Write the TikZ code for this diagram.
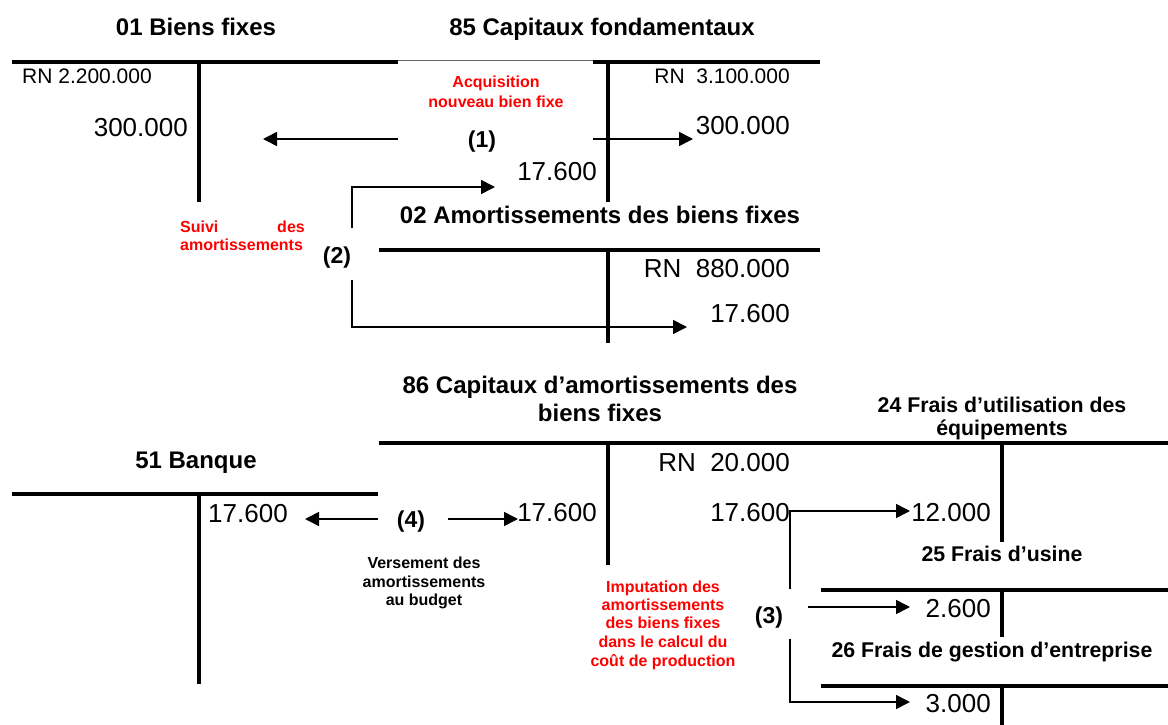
\documentclass[tikz,border=0pt]{standalone}
\usepackage{fontspec}
\setmainfont{Liberation Sans}
\usetikzlibrary{arrows.meta}
\definecolor{redtxt}{RGB}{255,0,0}
\begin{document}
\begin{tikzpicture}[x=1pt,y=-1pt,
  title/.style={font=\fontsize{24}{26}\selectfont\bfseries, inner sep=0pt, anchor=base},
  stitle/.style={font=\fontsize{21.3}{24}\selectfont\bfseries, inner sep=0pt, anchor=base},
  val/.style={font=\fontsize{26}{30}\selectfont, inner sep=0pt, anchor=base east},
  rnsmall/.style={font=\fontsize{21}{24}\selectfont, inner sep=0pt},
  lab/.style={font=\fontsize{23}{26}\selectfont\bfseries, inner sep=0pt, anchor=base},
  note/.style={font=\fontsize{16}{19}\selectfont\bfseries, inner sep=0pt, anchor=base},
  rednote/.style={note, text=redtxt},
  tline/.style={line width=3.8pt},
  thinline/.style={line width=1pt, black!60},
  conn/.style={line width=1.6pt, -{Triangle[length=14pt,width=14pt]}},
  seg/.style={line width=1.6pt}
]
\path[use as bounding box] (0,0) rectangle (1168,725);

% ---------- T-account lines ----------
% 01 Biens fixes
\coordinate (l01a) at (12,62);  \coordinate (l01b) at (398,62);
\draw[tline] (l01a) -- (l01b);
\draw[tline] (199,62) -- (199,202);
% thin remnant between 01 and 85
\draw[thinline] (398,61) -- (593,61);
% 85 Capitaux fondamentaux
\draw[tline] (593,62) -- (820,62);
\draw[tline] (608,62) -- (608,202);
% 02 Amortissements
\draw[tline] (379,250) -- (820,250);
\draw[tline] (608,250) -- (608,343);
% 51 Banque
\draw[tline] (12,494) -- (378,494);
\draw[tline] (199,494) -- (199,684);
% 86 and 24 (shared horizontal)
\draw[tline] (379,443) -- (1168,443);
\draw[tline] (608,443) -- (608,565);
\draw[tline] (1002,443) -- (1002,542);
% 25 Frais d'usine
\draw[tline] (821,590) -- (1168,590);
\draw[tline] (1002,590) -- (1002,637);
% 26 Frais de gestion
\draw[tline] (821,686) -- (1168,686);
\draw[tline] (1002,686) -- (1002,725);

% ---------- Titles ----------
\node[title] (t01) at (196,36) {01 Biens fixes};
\node[title] (t85) at (602,36) {85 Capitaux fondamentaux};
\node[title] (t02) at (600,223) {02 Amortissements des biens fixes};
\node[title] (t86a) at (600,393) {86 Capitaux d’amortissements des};
\node[title] (t86b) at (600,421) {biens fixes};
\node[stitle] (t24a) at (1002,412) {24 Frais d’utilisation des};
\node[stitle] (t24b) at (1002,435) {équipements};
\node[title] (t51) at (196,468) {51 Banque};
\node[stitle] (t25) at (1002,561) {25 Frais d’usine};
\node[stitle] (t26) at (992,657) {26 Frais de gestion d’entreprise};

% ---------- Values ----------
\node[rnsmall, anchor=base west] (rn01) at (22,83.5) {RN 2.200.000};
\node[rnsmall, anchor=base east] (rn85) at (790,83.5) {RN\ \ 3.100.000};
\node[val] (v01) at (188,136) {300.000};
\node[val] (v85) at (790,134) {300.000};
\node[val] (v85b) at (597,180) {17.600};
\node[val] (rn02) at (790,277) {RN\ \ 880.000};
\node[val] (v02) at (790,322) {17.600};
\node[val, anchor=base west] (v51) at (208,522) {17.600};
\node[val] (v86l) at (597,521) {17.600};
\node[val] (rn86) at (790,471) {RN\ \ 20.000};
\node[val] (v86r) at (790,521) {17.600};
\node[val] (v24) at (991,521) {12.000};
\node[val] (v25) at (991,617) {2.600};
\node[val] (v26) at (991,712) {3.000};

% ---------- Operation labels ----------
\node[lab] (op1) at (482,147) {(1)};
\node[lab] (op2) at (337,263) {(2)};
\node[lab] (op3) at (769,623) {(3)};
\node[lab] (op4) at (411,527) {(4)};

% ---------- Notes ----------
\node[rednote] (acq1) at (496,88) {Acquisition};
\node[rednote] (acq2) at (496,107) {nouveau bien fixe};
\node[rednote, anchor=base west] (sui1) at (180,232) {Suivi};
\node[rednote, anchor=base east] (sui2) at (305,232) {des};
\node[rednote, anchor=base west] (sui3) at (180,250) {amortissements};
\node[note] (ver1) at (424,568) {Versement des};
\node[note] (ver2) at (424,587) {amortissements};
\node[note] (ver3) at (424,605) {au budget};
\node[rednote] (imp1) at (663,592) {Imputation des};
\node[rednote] (imp2) at (663,610) {amortissements};
\node[rednote] (imp3) at (663,628) {des biens fixes};
\node[rednote] (imp4) at (663,647) {dans le calcul du};
\node[rednote] (imp5) at (663,666) {coût de production};

% ---------- Connectors ----------
% (1)
\coordinate (c1l) at (398,139); \coordinate (e1l) at (263,139);
\coordinate (c1r) at (593,139); \coordinate (e1r) at (693,139);
\draw[conn] (c1l) -- (e1l);
\draw[conn] (c1r) -- (e1r);
% (2)
\coordinate (c2a) at (352,228); \coordinate (e2a) at (495,187);
\coordinate (c2b) at (352,280); \coordinate (e2b) at (687,327);
\draw[conn] (c2a) |- (e2a);
\draw[conn] (c2b) |- (e2b);
% (3)
\coordinate (c3a) at (790,589); \coordinate (e3a) at (910,511);
\coordinate (c3b) at (808,607); \coordinate (e3b) at (910,607);
\coordinate (c3c) at (790,639); \coordinate (e3c) at (910,702);
\draw[conn] (c3a) |- (e3a);
\draw[conn] (c3b) -- (e3b);
\draw[conn] (c3c) |- (e3c);
% (4)
\coordinate (c4l) at (378,519); \coordinate (e4l) at (305,519);
\coordinate (c4r) at (448,519); \coordinate (e4r) at (518,519);
\draw[conn] (c4l) -- (e4l);
\draw[conn] (c4r) -- (e4r);
\end{tikzpicture}
\end{document}
